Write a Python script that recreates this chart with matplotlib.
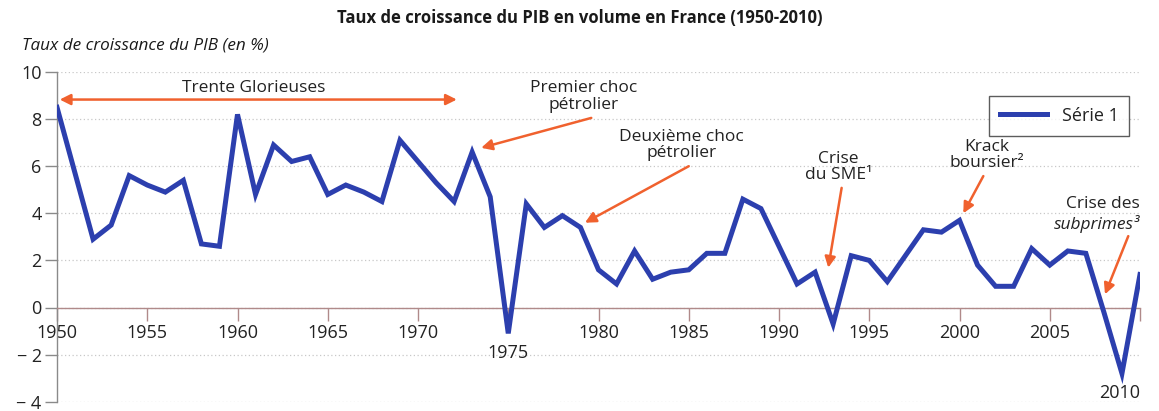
import matplotlib
matplotlib.use("Agg")
import matplotlib.pyplot as plt

plt.rcParams["font.family"] = ["Open Sans", "DejaVu Sans"]

# ── données ───────────────────────────────────────────────────────────────
ANNEES = list(range(1950, 2011))
CROISSANCE = [
    8.5, 5.7, 2.9, 3.5, 5.6, 5.2, 4.9, 5.4, 2.7, 2.6,   # 1950-1959
    8.2, 4.8, 6.9, 6.2, 6.4, 4.8, 5.2, 4.9, 4.5, 7.1,   # 1960-1969
    6.2, 5.3, 4.5, 6.6, 4.7, -1.1, 4.4, 3.4, 3.9, 3.4,  # 1970-1979
    1.6, 1.0, 2.4, 1.2, 1.5, 1.6, 2.3, 2.3, 4.6, 4.2,   # 1980-1989
    2.6, 1.0, 1.5, -0.7, 2.2, 2.0, 1.1, 2.2, 3.3, 3.2,  # 1990-1999
    3.7, 1.8, 0.9, 0.9, 2.5, 1.8, 2.4, 2.3, -0.2, -2.8,  # 2000-2009
    1.4,                                                 # 2010
]
XTICKS = list(range(1950, 2011, 5))
YTICKS = list(range(-4, 11, 2))
XTICKS_BAS = [1975, 2010]   # étiquettes placées sous la courbe

BLEU = "#2c3fae"
ORANGE = "#f0612e"
GRIS = "#222222"

fig = plt.figure(figsize=(11.59, 4.11), dpi=100)
ax = fig.add_axes([57 / 1159, 1 - 401.7 / 411, (1140 - 57) / 1159, (401.7 - 72) / 411])

ax.plot(ANNEES, CROISSANCE, color=BLEU, linewidth=3.6, solid_joinstyle="miter",
        label="Série 1", zorder=5)

ax.set_xlim(1950, 2010)
ax.set_ylim(-4, 10)

# axes
for s in ("top", "right"):
    ax.spines[s].set_visible(False)
ax.spines["bottom"].set_position(("data", 0))
ax.spines["bottom"].set_color("#b08a8a")
ax.spines["bottom"].set_linewidth(1.0)
ax.spines["left"].set_color("#8a8a8a")
ax.spines["left"].set_linewidth(1.0)

ax.set_yticks(YTICKS)
ax.set_yticklabels([f"− {abs(v)}" if v < 0 else str(v) for v in YTICKS])
ax.set_xticks(XTICKS)
ax.set_xticklabels(["" if v in XTICKS_BAS else str(v) for v in XTICKS])
ax.tick_params(axis="y", direction="out", length=9, width=1, color="#8a8a8a",
               labelsize=13, labelcolor=GRIS, pad=2)
ax.tick_params(axis="x", direction="out", length=9, width=1, color="#b08a8a",
               labelsize=13, labelcolor=GRIS, pad=3)
for v in XTICKS_BAS:
    ax.text(v, -1.55 if v == 1975 else -3.25, str(v), fontsize=13, color=GRIS,
            ha="center" if v == 1975 else "right", va="top")

ax.grid(axis="y", linestyle=(0, (1, 2)), color="#c8c8c8", linewidth=0.9)
ax.set_axisbelow(True)

# légende
leg = ax.legend(loc="upper right", bbox_to_anchor=(0.9985, 0.955), fontsize=13,
                frameon=True, fancybox=False, handlelength=2.6, borderpad=0.6,
                handletextpad=0.8)
leg.get_frame().set_edgecolor("#333333")
leg.get_frame().set_linewidth(1.0)
for t in leg.get_texts():
    t.set_color(GRIS)

# titres
fig.text(0.5, 1 - 18 / 411, "Taux de croissance du PIB en volume en France (1950-2010)",
         ha="center", va="center", fontsize=12, fontweight="bold", color="#1a1a1a")
fig.text(22 / 1159, 1 - 45 / 411, "Taux de croissance du PIB (en %)",
         ha="left", va="center", fontsize=12.3, style="italic", color="#1a1a1a")

# annotations
fleche = dict(arrowstyle="-|>", color=ORANGE, lw=1.8, mutation_scale=16,
              shrinkA=0, shrinkB=0)

ax.annotate("", xy=(1950.15, 8.83), xytext=(1972.15, 8.83),
            arrowprops=dict(arrowstyle="<|-|>", color=ORANGE, lw=1.8,
                            mutation_scale=16, shrinkA=0, shrinkB=0))
ax.text(1960.9, 9.33, "Trente Glorieuses", ha="center", va="center",
        fontsize=12.5, color=GRIS)

notes = [
    ("Premier choc\npétrolier", (1979.2, 8.95), (1979.6, 8.05), (1973.5, 6.78)),
    ("Deuxième choc\npétrolier", (1984.6, 6.9), (1985.0, 6.0), (1979.25, 3.6)),
    ("Crise\ndu SME¹", (1993.3, 5.97), (1993.47, 5.08), (1992.73, 1.69)),
    ("Krack\nboursier²", (2001.5, 6.47), (2001.32, 5.58), (2000.21, 4.0)),
]
for txt, pos, queue, tete in notes:
    ax.text(pos[0], pos[1], txt, ha="center", va="center", fontsize=12.5,
            color=GRIS, linespacing=1.05)
    ax.annotate("", xy=tete, xytext=queue, arrowprops=fleche)

ax.text(2010.0, 4.38, "Crise des", ha="right", va="center", fontsize=12.5, color=GRIS)
ax.text(2010.0, 3.56, "subprimes³", ha="right", va="center", fontsize=12.5,
        color=GRIS, style="italic")
ax.annotate("", xy=(2008.06, 0.56), xytext=(2009.35, 3.03), arrowprops=fleche)

fig.savefig("out.png", dpi=100)
